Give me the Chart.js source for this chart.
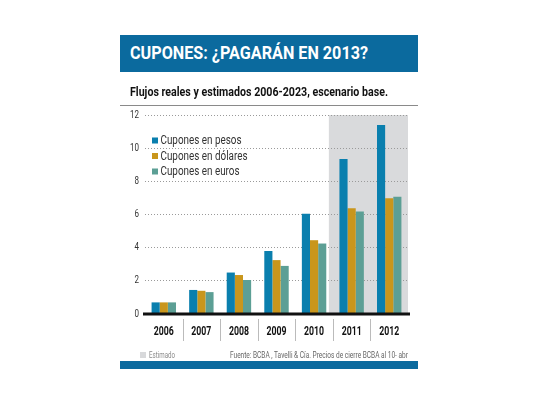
<!DOCTYPE html>
<html>
<head>
<meta charset="utf-8">
<script src="https://cdn.jsdelivr.net/npm/chart.js@4"></script>
<style>
  html, body { margin:0; padding:0; background:#fff; }
  #wrap { position:relative; width:540px; height:405px; overflow:hidden; }
  #c { position:absolute; left:0; top:0; }
  .t { position:absolute; font-family:Roboto,"Liberation Sans",sans-serif; white-space:nowrap; transform-origin:0 50%; line-height:1; }
  #bar { position:absolute; left:120px; top:35px; width:298px; height:37px; background:#0b6a9e; }
  #title { left:130px; top:44px; color:#fff; font-weight:bold; font-size:18.5px; }
  #sub { left:130px; top:86px; font-weight:bold; font-size:12.5px; color:#111; }
  #rule { position:absolute; left:120px; top:105px; width:298px; height:1px; background:#8a8a8a; }
  #sq { position:absolute; left:140px; top:352px; width:6px; height:6px; background:#d8d9db; }
  #est { left:149px; top:351px; font-size:8.5px; color:#8a8a8a; }
  #src { left:230px; top:351px; font-size:8.5px; color:#666; }
  #bottom { position:absolute; left:120px; top:361px; width:298px; height:8px; background:#0b6a9e; }
</style>
</head>
<body>
<div id="wrap">
  <canvas id="c" width="540" height="405"></canvas>
  <div id="bar"></div>
  <div id="title" class="t" data-w="238">CUPONES: ¿PAGARÁN EN 2013?</div>
  <div id="sub" class="t" data-w="258">Flujos reales y estimados 2006-2023, escenario base.</div>
  <div id="rule"></div>
  <div id="sq"></div>
  <div id="est" class="t" data-w="26">Estimado</div>
  <div id="src" class="t" data-w="178">Fuente: BCBA , Tavelli &amp; Cía. Precios de cierre BCBA al 10- abr</div>
  <div id="bottom"></div>
</div>
<script>
const years = ['2006','2007','2008','2009','2010','2011','2012'];
const seriesNames = ['Cupones en pesos','Cupones en dólares','Cupones en euros'];
const pesos   = [0.7, 1.45, 2.5, 3.8, 6.05, 9.35, 11.4];
const dolares = [0.7, 1.4, 2.35, 3.25, 4.45, 6.38, 6.98];
const euros   = [0.7, 1.32, 2.05, 2.9, 4.25, 6.18, 7.07];
const estimatedFrom = '2011';
const yTicks = [0, 2, 4, 6, 8, 10, 12];

const colors = ['#0a7fae', '#c9961c', '#5c9f95'];
const FONT = 'Roboto, "Liberation Sans", sans-serif';

// condense HTML texts to their measured widths
document.querySelectorAll('.t[data-w]').forEach(el => {
  const w = el.getBoundingClientRect().width;
  el.style.transform = 'scaleX(' + (parseFloat(el.dataset.w) / w) + ')';
});

function narrowText(ctx, text, x, y, sx, align) {
  const w = ctx.measureText(text).width * sx;
  let x0 = x;
  if (align === 'center') x0 = x - w / 2;
  else if (align === 'right') x0 = x - w;
  ctx.save();
  ctx.translate(x0, y);
  ctx.scale(sx, 1);
  ctx.textAlign = 'left';
  ctx.fillText(text, 0, 0);
  ctx.restore();
}

const decor = {
  id: 'decor',
  beforeDraw(chart) {
    const {ctx, chartArea: a, scales: {x}} = chart;
    const i = years.indexOf(estimatedFrom);
    const step = x.getPixelForValue(1) - x.getPixelForValue(0);
    const left = x.getPixelForValue(i) - step / 2 - 4;
    ctx.save();
    ctx.fillStyle = '#d9dadc';
    ctx.fillRect(left, a.top, a.right - left, a.bottom - a.top);
    ctx.restore();
  },
  afterDatasetsDraw(chart) {
    const {ctx, chartArea: a, scales: {x, y}} = chart;
    ctx.save();
    const y0 = y.getPixelForValue(0);
    ctx.strokeStyle = '#111';
    ctx.lineWidth = 3;
    ctx.beginPath();
    ctx.moveTo(a.left - 2, y0);
    ctx.lineTo(a.right + 2, y0);
    ctx.stroke();
    // separators
    const step = x.getPixelForValue(1) - x.getPixelForValue(0);
    ctx.strokeStyle = '#bbb';
    ctx.lineWidth = 1;
    for (let k = 1; k < years.length; k++) {
      const px = Math.round(x.getPixelForValue(k) - step / 2) + 0.5;
      ctx.beginPath();
      ctx.moveTo(px, y0 + 5);
      ctx.lineTo(px, y0 + 27);
      ctx.stroke();
    }
    // x labels
    ctx.fillStyle = '#111';
    ctx.textBaseline = 'middle';
    ctx.font = 'bold 12px ' + FONT;
    const sxX = 20 / ctx.measureText('2006').width;
    years.forEach((lab, k) => narrowText(ctx, lab, x.getPixelForValue(k), 332, sxX, 'center'));
    // y labels
    ctx.fillStyle = '#333';
    ctx.font = '10.5px ' + FONT;
    const sxY = 9 / ctx.measureText('12').width;
    yTicks.forEach(v => narrowText(ctx, String(v), 139, y.getPixelForValue(v), sxY, 'right'));
    // legend
    ctx.font = '12px ' + FONT;
    const sxL = 87 / ctx.measureText(seriesNames[1]).width;
    chart.data.datasets.forEach((ds, k) => {
      const ty = 140.5 + k * 15.5;
      ctx.fillStyle = ds.backgroundColor;
      ctx.fillRect(152, ty - 3, 6, 6);
      ctx.fillStyle = '#333';
      narrowText(ctx, ds.label, 160.5, ty + 0.5, sxL, 'left');
    });
    ctx.restore();
  }
};

new Chart(document.getElementById('c'), {
  type: 'bar',
  data: {
    labels: years,
    datasets: [
      {label: seriesNames[0], data: pesos, backgroundColor: colors[0]},
      {label: seriesNames[1], data: dolares, backgroundColor: colors[1]},
      {label: seriesNames[2], data: euros, backgroundColor: colors[2]}
    ]
  },
  options: {
    responsive: false,
    animation: false,
    devicePixelRatio: 1,
    layout: {padding: {left: 110, right: 132, top: 115, bottom: 56}},
    datasets: {bar: {categoryPercentage: 0.65, barPercentage: 1.0, borderWidth: 0}},
    plugins: {legend: {display: false}, tooltip: {enabled: false}},
    scales: {
      x: {
        grid: {display: false},
        border: {display: false},
        ticks: {display: false},
        afterFit(s) { s.height = 35; }
      },
      y: {
        min: 0, max: 12,
        afterBuildTicks(s) { s.ticks = yTicks.map(v => ({value: v})); },
        grid: {
          color: c => (c.tick && c.tick.value === 0) ? 'rgba(0,0,0,0)' : '#9a9a9a',
          drawTicks: false,
          lineWidth: 1
        },
        border: {display: false, dash: [1, 2]},
        ticks: {display: false},
        afterFit(s) { s.width = 35; }
      }
    }
  },
  plugins: [decor]
});
</script>
</body>
</html>
